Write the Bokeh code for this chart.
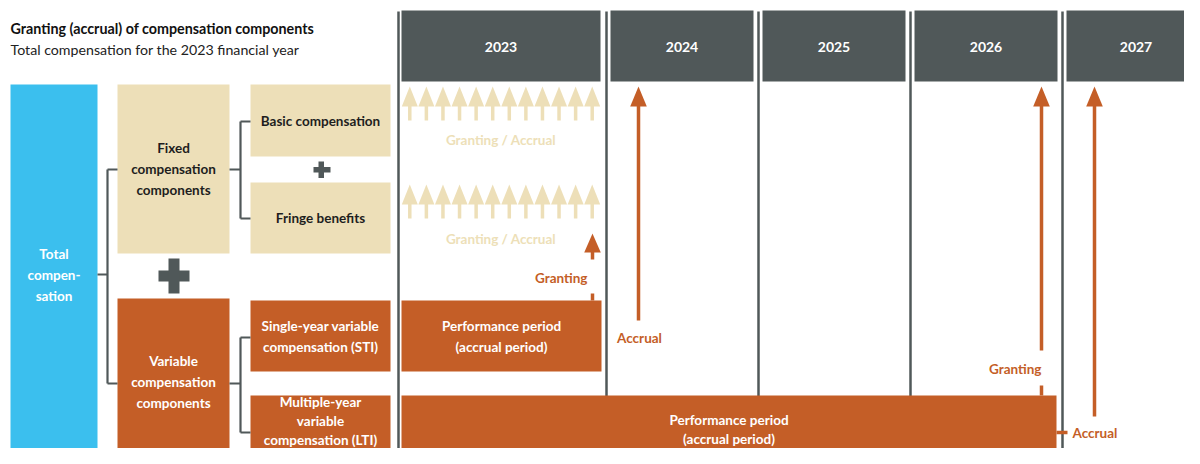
from bokeh.plotting import figure
from bokeh.models import Range1d
from bokeh.embed import file_html
from bokeh.resources import INLINE
from bokeh.core.properties import value

# ---------------- content ----------------
title = "Granting (accrual) of compensation components"
subtitle = "Total compensation for the 2023 financial year"
years = ["2023", "2024", "2025", "2026", "2027"]
total_label = ["Total", "compen-", "sation"]
fixed_label = ["Fixed", "compensation", "components"]
variable_label = ["Variable", "compensation", "components"]
fixed_items = [["Basic compensation"], ["Fringe benefits"]]
variable_items = [["Single-year variable", "compensation (STI)"],
                  ["Multiple-year", "variable", "compensation (LTI)"]]
months_per_year = 12
fixed_event_label = "Granting / Accrual"
perf_label = ["Performance period", "(accrual period)"]
sti_period = ["2023", "2023"]
sti_granting_year = "2023"
sti_accrual_year = "2024"
lti_period = ["2023", "2026"]
lti_granting_year = "2026"
lti_accrual_year = "2027"
granting_text = "Granting"
accrual_text = "Accrual"

# ---------------- styling / layout ----------------
BLUE = "#3BBFEE"
BEIGE = "#EDDFB8"
ORANGE = "#C45E27"
GRAY = "#505859"
DARK = "#1E1E1E"
WHITE = "#FFFFFF"
FONT = "Lato"
FS = "13.5px"
BOTTOM = 470      # boxes run off the bottom edge
col_lines = [398, 606, 758, 910, 1062]
col_ends = col_lines[1:] + [1210]

p = figure(width=1184, height=448, x_range=Range1d(0, 1184), y_range=Range1d(448, 0),
           output_backend="svg", toolbar_location=None, min_border=0,
           x_axis_location=None, y_axis_location=None)
p.grid.visible = False
p.outline_line_color = None
p.background_fill_color = WHITE


def text(x, y, lines, color, align="center", size=FS, style="bold", spacing=21):
    n = len(lines)
    ys = [y + (i - (n - 1) / 2) * spacing for i in range(n)]
    p.text(x=[x] * n, y=ys, text=lines, text_font=value(FONT), text_font_style=style,
           text_font_size=size, text_color=color, text_align=align, text_baseline="middle")


def box(l, r, t, b, color, lines=None, tcolor=DARK, spacing=21, cy=None):
    p.quad(left=[l], right=[r], top=[t], bottom=[b], fill_color=color, line_color=None)
    if lines:
        yc = cy if cy is not None else (t + min(b, 464)) / 2
        text((l + r) / 2, yc, lines, tcolor, spacing=spacing)


def arrow(x, tip, base, stem_end, color, hw=8.3, sw=3.5):
    p.patch(x=[x - hw, x, x + hw], y=[base, tip, base], fill_color=color, line_color=None)
    p.segment(x0=[x], y0=[base - 1], x1=[x], y1=[stem_end], line_color=color, line_width=sw)


def seg(x0, y0, x1, y1, color=GRAY, w=2.2):
    p.segment(x0=[x0], y0=[y0], x1=[x1], y1=[y1], line_color=color, line_width=w)


# title
p.text(x=[10], y=[28], text=[title], text_font=value(FONT), text_font_style="bold",
       text_font_size="14.3px", text_color="#111111", text_baseline="middle")
p.text(x=[10], y=[49], text=[subtitle], text_font=value(FONT), text_font_style="normal",
       text_font_size="14.2px", text_color="#222222", text_baseline="middle")

# left hierarchy
box(10, 97, 84, BOTTOM, BLUE, total_label, WHITE)
box(117, 229, 84, 253, BEIGE, fixed_label, DARK)
box(250, 390, 84, 156, BEIGE, fixed_items[0], DARK)
box(250, 390, 182, 253, BEIGE, fixed_items[1], DARK)
box(117, 229, 298, BOTTOM, ORANGE, variable_label, WHITE)
box(250, 390, 300, 371, ORANGE, variable_items[0], WHITE)
box(250, 390, 395, BOTTOM, ORANGE, variable_items[1], WHITE, spacing=19, cy=420)

# plus signs
p.quad(left=[313, 318], right=[330, 323.5], top=[166.5, 161], bottom=[172, 177.5],
       fill_color=GRAY, line_color=None)
p.quad(left=[158, 168], right=[189, 179], top=[270, 258], bottom=[281, 293],
       fill_color=GRAY, line_color=None)

# connectors
seg(97, 274, 107, 274)
seg(107, 169, 107, 383)
seg(107, 169, 117, 169)
seg(107, 383, 117, 383)
seg(229, 169, 240, 169)
seg(240, 121, 240, 218)
seg(240, 121, 250, 121)
seg(240, 218, 250, 218)
seg(229, 383, 240, 383)
seg(240, 337, 240, 432)
seg(240, 337, 250, 337)
seg(240, 432, 250, 432)

# timeline columns
for i, yr in enumerate(years):
    l = col_lines[i] + (3 if i == 0 else 4)
    r = col_ends[i] - (6 if i == 0 else 5)
    p.quad(left=[l], right=[r], top=[10], bottom=[81], fill_color=GRAY, line_color=None)
    text((l + r) / 2, 46, [yr], WHITE, size="14px")
    seg(col_lines[i], 11, col_lines[i], BOTTOM, GRAY, 2.5)

yi = {y: i for i, y in enumerate(years)}

# fixed components: monthly granting / accrual
c0 = yi["2023"]
fl, fr = col_lines[c0] + 3, col_ends[c0] - 6
step = (fr - fl) / months_per_year
for row_tip, row_base, row_end, lab_y in [(86, 106, 120, 139), (184, 204, 218, 238)]:
    for m in range(months_per_year):
        arrow(fl + step * (m + 0.5), row_tip, row_base, row_end, BEIGE, hw=8, sw=3.5)
    text((fl + fr) / 2, lab_y, [fixed_event_label], BEIGE)

# STI performance period
s0, s1 = yi[sti_period[0]], yi[sti_period[1]]
box(col_lines[s0] + 3, col_ends[s1] - 5, 300, 371, ORANGE, perf_label, WHITE)
# STI granting (end of 2023)
gx = col_ends[yi[sti_granting_year]] - 14
arrow(gx, 233, 252, 259, ORANGE)
text(gx - 5, 277, [granting_text], ORANGE, align="right")
seg(gx, 293, gx, 300, ORANGE, 3.5)
# STI accrual (2024)
ax = col_lines[yi[sti_accrual_year]] + 32
arrow(ax, 86, 106, 320, ORANGE)
text(ax + 1, 337, [accrual_text], ORANGE)

# LTI performance period
l0, l1 = yi[lti_period[0]], yi[lti_period[1]]
lr = col_ends[l1] - 6
box(col_lines[l0] + 3, lr, 395, BOTTOM, ORANGE, perf_label, WHITE, spacing=19, cy=429)
# LTI granting (end of 2026)
g2 = col_ends[yi[lti_granting_year]] - 21
arrow(g2, 86, 106, 350, ORANGE)
text(g2, 368, [granting_text], ORANGE, align="right")
seg(g2, 385, g2, 395, ORANGE, 3.5)
# LTI accrual (2027)
a2 = col_lines[yi[lti_accrual_year]] + 32
arrow(a2, 86, 106, 416, ORANGE)
seg(lr, 432, lr + 11, 432, ORANGE, 3.5)
text(lr + 16, 432, [accrual_text], ORANGE, align="left")

open("out.html", "w").write(file_html(p, INLINE))
